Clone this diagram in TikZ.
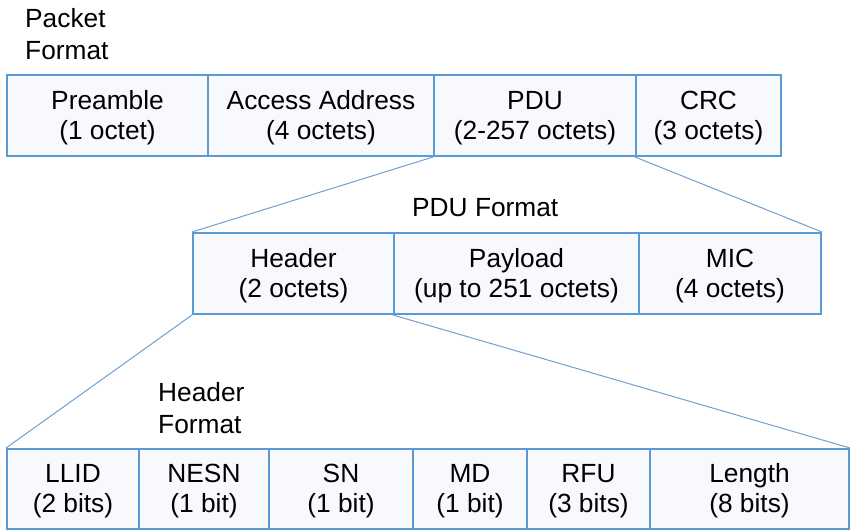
\documentclass[tikz,border=0pt]{standalone}
\usepackage{fontspec}
\setmainfont{Liberation Sans}
\definecolor{boxblue}{RGB}{91,155,213}
\definecolor{linkblue}{RGB}{110,160,210}
\definecolor{boxfill}{RGB}{248,249,252}
\newcommand\twolines[2]{\raisebox{0pt}[\dimexpr\height+5pt\relax][\depth]{\begin{tabular}{@{}c@{}}#1\\#2\end{tabular}}}
\begin{document}
\begin{tikzpicture}[x=1pt,y=-1pt,
  field/.style={draw=boxblue,line width=2pt,fill=boxfill,rectangle,anchor=north west,inner sep=0pt,
    font=\fontsize{26.3}{30}\selectfont\renewcommand\arraystretch{1}},
  title/.style={anchor=north west,inner sep=0pt,align=left,font=\fontsize{26.3}{32}\selectfont},
  link/.style={draw=linkblue,line width=1pt}]
\useasboundingbox (0,0) rectangle (852,530);
% row 1
\node[field,minimum width=201pt,minimum height=81pt] (pre) at (6,74) {\twolines{Preamble}{(1 octet)}};
\node[field,minimum width=226pt,minimum height=81pt] (aa) at (207,74) {\twolines{Access Address}{(4 octets)}};
\node[field,minimum width=202pt,minimum height=81pt] (pdu) at (433,74) {\twolines{PDU}{(2-257 octets)}};
\node[field,minimum width=145pt,minimum height=81pt] (crc) at (635,74) {\twolines{CRC}{(3 octets)}};
% row 2
\node[field,minimum width=201pt,minimum height=81pt] (hdr) at (192,232) {\twolines{Header}{(2 octets)}};
\node[field,minimum width=245pt,minimum height=81pt] (pay) at (393,232) {\twolines{Payload}{(up to 251 octets)}};
\node[field,minimum width=182pt,minimum height=81pt] (mic) at (638,232) {\twolines{MIC}{(4 octets)}};
% row 3
\node[field,minimum width=132pt,minimum height=80pt] (llid) at (6,448) {\twolines{LLID}{(2 bits)}};
\node[field,minimum width=130pt,minimum height=80pt] (nesn) at (138,448) {\twolines{NESN}{(1 bit)}};
\node[field,minimum width=144pt,minimum height=80pt] (sn) at (268,448) {\twolines{SN}{(1 bit)}};
\node[field,minimum width=114pt,minimum height=80pt] (md) at (412,448) {\twolines{MD}{(1 bit)}};
\node[field,minimum width=123pt,minimum height=80pt] (rfu) at (526,448) {\twolines{RFU}{(3 bits)}};
\node[field,minimum width=199pt,minimum height=80pt] (len) at (649,448) {\twolines{Length}{(8 bits)}};
% titles
\node[title] (t1) at (25,8) {Packet\\Format};
\node[title] (t2) at (412,198) {PDU Format};
\node[title] (t3) at (158,382) {Header\\Format};
% connectors
\draw[link] (pdu.south west) -- (hdr.north west);
\draw[link] (crc.south west) -- (mic.north east);
\draw[link] (hdr.south west) -- (llid.north west);
\draw[link] (pay.south west) -- (len.north east);
\end{tikzpicture}
\end{document}
